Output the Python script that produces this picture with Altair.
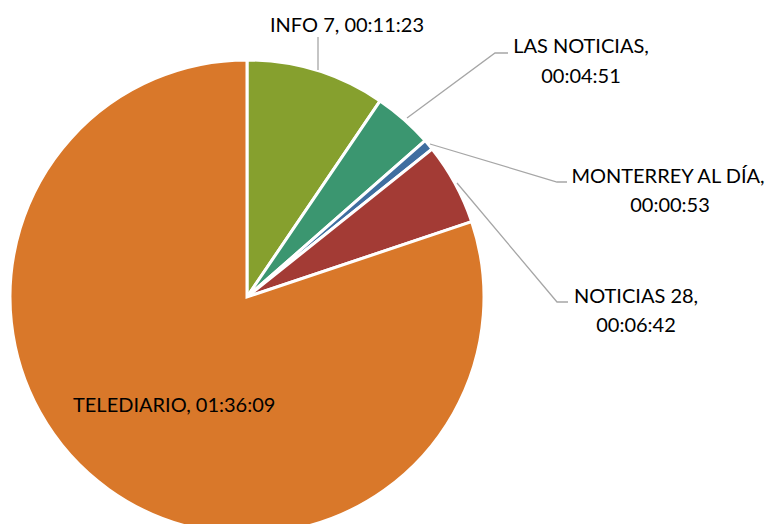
import altair as alt
import pandas as pd

# ---- data ----
programs = ["INFO 7", "LAS NOTICIAS", "MONTERREY AL DÍA", "NOTICIAS 28", "TELEDIARIO"]
durations = ["00:11:23", "00:04:51", "00:00:53", "00:06:42", "01:36:09"]
colors = ["#86A02E", "#3B9670", "#3F6EA0", "#A33B35", "#D9782A"]

def to_seconds(s):
    h, m, sec = (int(p) for p in s.split(":"))
    return h * 3600 + m * 60 + sec

pie_df = pd.DataFrame({
    "program": programs,
    "duration": durations,
    "seconds": [to_seconds(d) for d in durations],
    "idx": list(range(len(programs))),
})

# ---- layout (label placement, pixels in chart space) ----
CX, CY, R = 239, 289, 237
label_lines = [
    # program index, line text, x, y(baseline), align
    (0, "INFO 7, 00:11:23", 339, 24, "center"),
    (1, "LAS NOTICIAS,", 573, 45, "center"),
    (1, "00:04:51", 573, 75, "center"),
    (2, "MONTERREY AL DÍA,", 660, 175, "center"),
    (2, "00:00:53", 662, 204, "center"),
    (3, "NOTICIAS 28,", 628, 295, "center"),
    (3, "00:06:42", 628, 324, "center"),
    (4, "TELEDIARIO, 01:36:09", 65, 404, "left"),
]
leaders = {
    0: [(310, 29), (310, 62)],
    1: [(399, 110), (487, 45), (500, 45)],
    2: [(422, 136), (549, 174), (559, 174)],
    3: [(449, 175), (549, 294), (560, 294)],
}

lab_df = pd.DataFrame(label_lines, columns=["i", "text", "px", "py", "align"])
lead_rows = []
for i, pts in leaders.items():
    for k, (x, y) in enumerate(pts):
        lead_rows.append({"i": i, "k": k, "px": x, "py": y})
lead_df = pd.DataFrame(lead_rows)

FONT = "Lato"
FS = 20

pie = alt.Chart(pie_df).mark_arc(
    outerRadius=R, stroke="white", strokeWidth=3
).encode(
    theta=alt.Theta("seconds:Q", stack=True),
    order=alt.Order("idx:Q"),
    color=alt.Color("program:N", scale=alt.Scale(domain=programs, range=colors), legend=None),
    x=alt.value(CX),
    y=alt.value(CY),
)

lines = alt.Chart(lead_df).mark_line(color="#A6A6A6", strokeWidth=1.3).encode(
    x=alt.X("px:Q", scale=None),
    y=alt.Y("py:Q", scale=None),
    detail="i:N",
    order="k:Q",
)

def text_layer(align):
    return alt.Chart(lab_df[lab_df["align"] == align]).mark_text(
        font=FONT, fontSize=FS, color="#000000", align=align, baseline="alphabetic"
    ).encode(
        x=alt.X("px:Q", scale=None),
        y=alt.Y("py:Q", scale=None),
        text="text:N",
    )

chart = alt.layer(pie, lines, text_layer("center"), text_layer("left")).properties(
    width=757, height=516, padding=0, autosize=alt.AutoSizeParams(type="none")
).configure_view(stroke=None)

chart.save("out.html", embed_options={"renderer": "svg", "actions": False})
